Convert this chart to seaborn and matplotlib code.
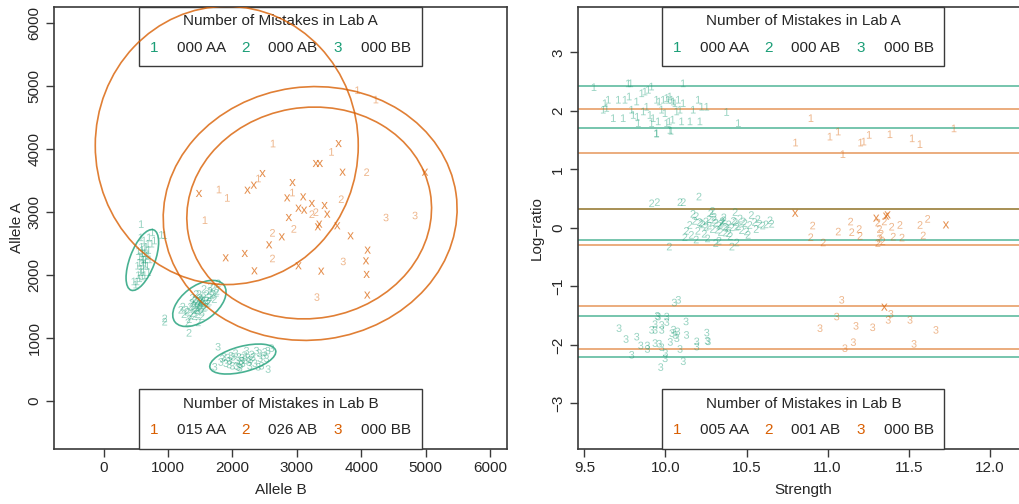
import matplotlib
matplotlib.use("Agg")
import matplotlib.pyplot as plt
import pandas as pd
import seaborn as sns
from matplotlib.patches import Ellipse, Rectangle

# ---------------- data ----------------
# Left panel: Allele B (x) vs Allele A (y)
left_A_AA = [(560,2300),(600,2400),(640,2350),(690,2500),(610,2200),(580,2100),(650,2250),(700,2400),
             (540,2000),(620,2150),(670,2300),(590,2450),(630,2550),(560,1950),(710,2600),(600,2280),
             (650,2180),(520,1900),(580,2050),(640,2420),(690,2320),(750,2500),(600,2350),(560,2200),
             (620,2050),(680,2150),(530,2150),(500,1850),(470,1900),(640,2000),(600,1980),(720,2250),
             (760,2680),(580,2600),(660,2450),(620,2250),(540,2380),(700,2050),(586,2810),(949,2635),
             (900,2640),(790,2550)]
left_A_AB = [(1480,1550),(1500,1500),(1450,1580),(1520,1620),(1400,1480),(1550,1650),(1600,1700),
             (1430,1450),(1380,1400),(1470,1520),(1530,1560),(1420,1600),(1490,1640),(1560,1480),
             (1650,1750),(1700,1800),(1750,1720),(1350,1500),(1300,1420),(1250,1380),(1600,1600),
             (1640,1650),(1520,1420),(1460,1380),(1410,1350),(1370,1560),(1580,1500),(1680,1680),
             (1720,1620),(1440,1700),(1500,1470),(1540,1590),(1330,1300),(1280,1450),(1620,1550),
             (1560,1780),(1480,1700),(1400,1520),(1350,1360),(1450,1440),(1510,1610),(1590,1550),
             (1660,1820),(1780,1870),(1760,1750),(1230,1500),(1200,1450),(1310,1250),(1470,1250),
             (1530,1350),(949,1313),(949,1260),(1327,1084),(1420,1620),(1500,1580),(1380,1640),
             (1640,1580),(1700,1700),(1460,1490),(1550,1530)]
left_A_BB = [(1778,862),(1726,544),(1846,675),(1870,700),(1930,690),(1960,640),(2010,703),(2088,544),
             (2115,530),(2100,700),(2140,640),(2130,580),(2190,730),(2240,690),(2255,620),(2270,560),
             (2375,800),(2400,544),(2430,680),(2452,560),(2504,780),(2550,800),(2608,840),(2530,677),
             (2555,508),(1900,600),(1980,720),(2050,760),(2200,650),(2300,740),(2350,600),(2160,600),
             (2060,560),(2220,800),(1820,620),(2000,560),(2150,690),(2280,660),(2480,720),(2420,760),
             (1950,580),(2080,640),(2320,700)]
left_B_AA = [(2633,4090),(3541,3958),(2406,3535),(1794,3360),(1923,3227),(2934,3312),(1576,2873),
             (3945,4937),(4230,4789)]
left_B_AB = [(4085,3635),(3691,3206),(3235,2968),(3297,3000),(2955,2735),(2623,2672),(2623,2265)]
left_B_BB = [(4386,2915),(4837,2947),(3722,2217),(3313,1651)]
left_B_miss = [(3650,4090),(3297,3773),(3359,3773),(3712,3635),(4992,3635),(2468,3614),(2333,3429),
               (2235,3349),(2934,3471),(1482,3297),(2851,3227),(3100,3243),(3235,3138),(3432,3106),
               (3027,3063),(3115,3032),(3473,2968),(2877,2915),(3328,2767),(3349,2810),(3629,2783),
               (2768,2608),(3836,2624),(2571,2481),(1897,2275),(2193,2344),(4101,2397),(4075,2227),
               (2343,2068),(3027,2148),(3380,2063),(4085,2011),(4095,1683)]

# ellipses: lab, centre x, centre y, semi-axis 1, semi-axis 2, angle (deg)
ell_lab = ['A', 'A', 'A', 'B', 'B', 'B']
ell_cx = [602, 1488, 2162, 1913, 3208, 3193]
ell_cy = [2240, 1550, 667, 4060, 2979, 2987]
ell_a = [510, 480, 528, 2042, 2287, 1907]
ell_b = [195, 275, 202, 2210, 2010, 1675]
ell_ang = [70, 38, 15, 0, 8, 10]

# Right panel: Strength (x) vs Log-ratio (y)
right_A_AA = [(9.56,2.405),(9.648,2.19),(9.628,2.13),(9.617,2.02),(9.638,2.05),(9.679,1.875),(9.71,2.19),
              (9.74,1.875),(9.751,2.19),(9.777,2.245),(9.771,2.47),(9.786,2.47),(9.792,2.02),(9.802,1.93),
              (9.827,1.90),(9.833,1.79),(9.823,2.16),(9.854,2.30),(9.874,2.33),(9.895,2.36),(9.915,2.415),
              (9.864,1.99),(9.885,2.07),(9.905,1.93),(9.925,1.875),(9.915,1.79),(9.946,1.62),(9.956,1.82),
              (9.946,2.19),(9.962,2.16),(9.977,2.02),(9.998,1.96),(9.987,2.19),(10.008,2.22),(10.018,2.19),
              (10.028,2.245),(10.039,2.19),(10.049,2.16),(10.059,2.13),(10.008,1.79),(10.024,1.82),
              (10.045,1.85),(10.028,1.675),(10.07,1.99),(10.09,2.02),(10.11,2.13),(10.08,2.19),(10.10,1.82),
              (10.152,1.82),(10.172,2.02),(10.203,2.19),(10.213,1.82),(10.255,2.07),(10.224,2.07),
              (10.11,2.47),(10.378,1.98),(10.45,1.79),(9.946,1.61),(10.035,1.66)]
right_A_AB = [(9.915,0.42),(9.95,0.44),(10.09,0.44),(10.11,0.44),(10.207,0.535),(10.024,-0.32),
              (10.645,0.13),(10.655,0.07),(10.41,-0.32),(10.15,0.05),(10.18,0.12),(10.20,-0.05),
              (10.22,0.08),(10.25,0.02),(10.27,0.15),(10.29,-0.02),(10.31,0.09),(10.33,0.04),(10.35,0.11),
              (10.37,-0.08),(10.39,0.06),(10.41,0.01),(10.43,0.10),(10.45,0.03),(10.47,-0.04),(10.49,0.08),
              (10.52,0.05),(10.55,0.10),(10.58,0.07),(10.60,0.04),(10.62,0.06),(10.16,-0.12),(10.19,0.20),
              (10.24,-0.10),(10.28,0.25),(10.30,0.14),(10.32,-0.03),(10.34,0.07),(10.36,0.18),(10.38,0.00),
              (10.40,-0.14),(10.42,0.12),(10.44,0.02),(10.46,0.16),(10.50,-0.06),(10.53,0.22),(10.56,-0.02),
              (10.13,-0.05),(10.17,0.24),(10.21,0.10),(10.26,-0.18),(10.29,0.29),(10.33,-0.22),(10.36,0.13),
              (10.39,-0.09),(10.43,0.27),(10.48,0.11),(10.51,-0.12),(10.57,0.15),(10.12,-0.16),(10.23,0.06),
              (10.27,0.04),(10.31,-0.26),(10.35,0.09),(10.37,0.02),(10.34,-0.07),(10.30,0.19),(10.25,0.11),
              (10.19,-0.20),(10.44,-0.25)]
right_A_BB = [(9.714,-1.715),(9.757,-1.90),(9.823,-1.86),(9.792,-2.17),(9.848,-2.01),(9.889,-2.01),
              (9.889,-2.07),(9.915,-1.744),(9.936,-1.744),(9.977,-1.744),(9.936,-1.646),(9.95,-1.504),
              (9.956,-1.516),(9.977,-1.66),(10.008,-1.516),(10.008,-1.61),(9.936,-1.97),(9.962,-1.98),
              (9.977,-2.04),(10.0,-2.14),(9.998,-2.23),(9.971,-2.38),(10.03,-1.95),(10.04,-1.80),
              (10.05,-1.74),(10.06,-1.83),(10.075,-1.77),(10.07,-1.885),(10.127,-1.60),(10.13,-1.83),
              (10.09,-2.07),(10.11,-2.28),(10.193,-1.94),(10.193,-2.03),(10.255,-1.79),(10.258,-1.93),
              (10.264,-1.94),(10.055,-1.276),(10.08,-1.23)]
right_B_AA = [(10.898,1.875),(10.803,1.458),(11.015,1.56),(11.066,1.646),(11.095,1.26),(11.204,1.458),
              (11.224,1.475),(11.257,1.59),(11.385,1.6),(11.522,1.53),(11.57,1.43),(11.78,1.70)]
right_B_AB = [(10.908,0.04),(10.896,-0.16),(10.973,-0.25),(11.066,-0.063),(11.142,0.108),(11.149,-0.074),
              (11.195,-0.02),(11.2,-0.137),(11.31,0.09),(11.32,-0.02),(11.33,-0.10),(11.32,-0.18),
              (11.34,-0.23),(11.31,-0.26),(11.35,0.11),(11.395,0.02),(11.446,0.05),(11.405,-0.15),
              (11.459,-0.166),(11.57,0.05),(11.617,0.154),(11.59,-0.13)]
right_B_BB = [(11.087,-1.23),(11.056,-1.516),(10.953,-1.715),(11.175,-1.675),(11.278,-1.70),(11.374,-1.573),
              (11.39,-1.47),(11.508,-1.573),(11.668,-1.744),(11.159,-1.954),(11.107,-2.057),(11.533,-1.983)]
right_B_miss = [(10.80,0.25),(11.30,0.166),(11.37,0.222),(11.36,0.20),(11.73,0.05),(11.35,-1.356)]

# horizontal reference lines (log-ratio) per lab
lines_A = [2.42, 1.71, 0.32, -0.21, -1.51, -2.21]
lines_B = [2.03, 1.28, 0.32, -0.29, -1.335, -2.07]

# legends
legend_codes = ['1', '2', '3']
legend_title_A = 'Number of Mistakes in Lab A'
legend_title_B = 'Number of Mistakes in Lab B'
left_legend_A = ['000 AA', '000 AB', '000 BB']
left_legend_B = ['015 AA', '026 AB', '000 BB']
right_legend_A = ['000 AA', '000 AB', '000 BB']
right_legend_B = ['005 AA', '001 AB', '000 BB']

left_xticks = [0, 1000, 2000, 3000, 4000, 5000, 6000]
left_yticks = [0, 1000, 2000, 3000, 4000, 5000, 6000]
right_xticks = [9.5, 10.0, 10.5, 11.0, 11.5, 12.0]
right_yticks = [-3, -2, -1, 0, 1, 2, 3]

# ---------------- style ----------------
sns.set_theme(style='white')
plt.rcParams['font.family'] = ['Liberation Sans', 'DejaVu Sans']
plt.rcParams['mathtext.fontset'] = 'custom'
plt.rcParams['mathtext.rm'] = 'Liberation Sans'
plt.rcParams['mathtext.it'] = 'Liberation Sans:italic'
plt.rcParams['axes.unicode_minus'] = True

GREEN = '#1b9e77'
ORANGE = '#d95f02'
PAL = {'A': GREEN, 'B': ORANGE}
MARKERS = {'1': '$1$', '2': '$2$', '3': '$3$', 'x': r'$\mathrm{x}$'}
FS = 11
EDGE = '#3a3a3a'


def frame(groups):
    rows = []
    for lab, sym, pts in groups:
        for x, y in pts:
            rows.append((x, y, lab, sym))
    return pd.DataFrame(rows, columns=['x', 'y', 'lab', 'sym'])


def draw_points(ax, df):
    digits = df[df.sym != 'x']
    mk = {k: MARKERS[k] for k in sorted(digits.sym.unique())}
    sns.scatterplot(data=digits, x='x', y='y', hue='lab', style='sym', markers=mk,
                    palette=PAL, s=30, alpha=0.45, linewidth=0, edgecolor='none',
                    legend=False, ax=ax, zorder=3)
    miss = df[df.sym == 'x']
    sns.scatterplot(data=miss, x='x', y='y', color=ORANGE, marker=MARKERS['x'], s=26,
                    alpha=0.7, linewidth=0, edgecolor='none', legend=False, ax=ax, zorder=3)


CODE_X = [0.2208, 0.4232, 0.6269]
LABEL_X = [0.2709, 0.4731, 0.6777]


def draw_legend(ax, title, labels, color, top):
    y0, y1 = (0.8665, 1.0) if top else (0.0, 0.1357)
    ax.add_patch(Rectangle((0.1876, y0), 0.812 - 0.1876, y1 - y0, transform=ax.transAxes,
                           facecolor='white', edgecolor=EDGE, lw=1.0, zorder=5, clip_on=False))
    ty = 0.968 if top else 0.1018
    ry = 0.908 if top else 0.043
    ax.text(0.5, ty, title, transform=ax.transAxes, ha='center', va='center', fontsize=FS, zorder=6)
    for cx, lx, code, lab in zip(CODE_X, LABEL_X, legend_codes, labels):
        ax.text(cx, ry, code, transform=ax.transAxes, ha='center', va='center', fontsize=FS,
                color=color, zorder=6)
        ax.text(lx, ry, lab, transform=ax.transAxes, ha='left', va='center', fontsize=FS, zorder=6)


def style_axes(ax, xlabel, ylabel, xticks, yticks, xlim, ylim, xfmt, ylabx):
    ax.set_xlim(*xlim)
    ax.set_ylim(*ylim)
    ax.set_xticks(xticks)
    ax.set_xticklabels([xfmt(v) for v in xticks])
    ax.set_yticks(yticks)
    ax.set_yticklabels([f'{v:d}'.replace('-', '\u2212') for v in yticks])
    ax.tick_params(axis='both', direction='out', length=6, width=1.0, color=EDGE,
                   labelsize=FS, pad=3, bottom=True, left=True)
    ax.tick_params(axis='y', labelrotation=90)
    for t in ax.get_yticklabels():
        t.set_va('center')
    for sp in ax.spines.values():
        sp.set_visible(True)
        sp.set_color(EDGE)
        sp.set_linewidth(1.2)
    ax.set_xlabel(xlabel, fontsize=FS)
    ax.set_ylabel(ylabel, fontsize=FS)
    ax.xaxis.set_label_coords(0.5, -0.092)
    ax.xaxis.label.set_va('center')
    ax.yaxis.set_label_coords(ylabx, 0.5)
    ax.yaxis.label.set_va('center')
    ax.grid(False)


fig = plt.figure(figsize=(10.19, 5.04), dpi=100)
axL = fig.add_axes([54 / 1019, 55 / 504, 453 / 1019, 442 / 504])
axR = fig.add_axes([577.7 / 1019, 55 / 504, 451.3 / 1019, 442 / 504])

# ---- left panel ----
dfL = frame([('A', '1', left_A_AA), ('A', '2', left_A_AB), ('A', '3', left_A_BB),
             ('B', '1', left_B_AA), ('B', '2', left_B_AB), ('B', '3', left_B_BB),
             ('B', 'x', left_B_miss)])
draw_points(axL, dfL)
style_axes(axL, 'Allele B', 'Allele A', left_xticks, left_yticks,
           (-770, 6265), (-762, 6259), lambda v: f'{v:d}', -0.082)
draw_legend(axL, legend_title_A, left_legend_A, GREEN, True)
draw_legend(axL, legend_title_B, left_legend_B, ORANGE, False)
# ellipses drawn after the legends (they cross the legend box in the original)
for lab, cx, cy, a, b, ang in zip(ell_lab, ell_cx, ell_cy, ell_a, ell_b, ell_ang):
    axL.add_patch(Ellipse((cx, cy), 2 * a, 2 * b, angle=ang, fill=False,
                          edgecolor=PAL[lab], alpha=0.8, lw=1.2, zorder=7))

# ---- right panel ----
dfR = frame([('A', '1', right_A_AA), ('A', '2', right_A_AB), ('A', '3', right_A_BB),
             ('B', '1', right_B_AA), ('B', '2', right_B_AB), ('B', '3', right_B_BB),
             ('B', 'x', right_B_miss)])
draw_points(axR, dfR)
for v in lines_A:
    axR.axhline(v, color=GREEN, alpha=0.7, lw=1.2, zorder=2)
for v in lines_B:
    axR.axhline(v, color=ORANGE, alpha=0.6, lw=1.2, zorder=2)
style_axes(axR, 'Strength', 'Log\u2212ratio', right_xticks, right_yticks,
           (9.459, 12.242), (-3.78, 3.775), lambda v: f'{v:.1f}', -0.090)
draw_legend(axR, legend_title_A, right_legend_A, GREEN, True)
draw_legend(axR, legend_title_B, right_legend_B, ORANGE, False)

fig.savefig('out.png', dpi=100, facecolor='white')
